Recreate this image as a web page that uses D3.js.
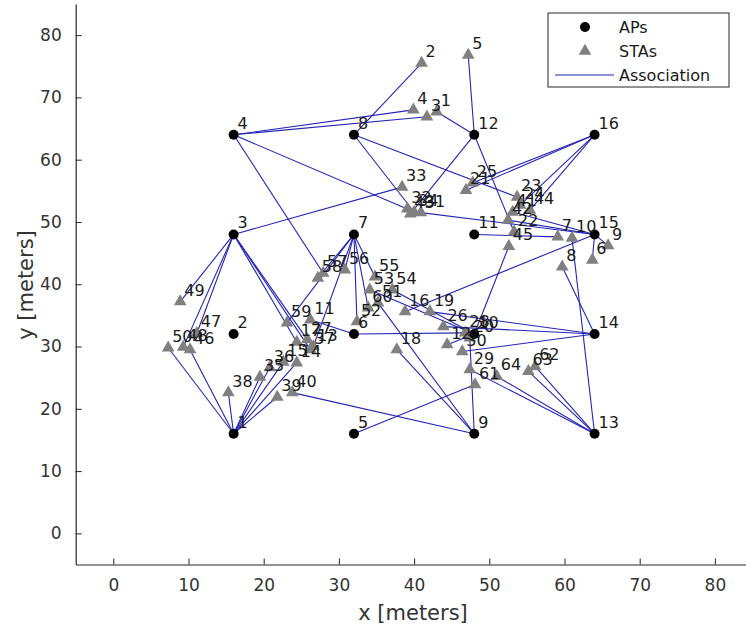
<!DOCTYPE html>
<html>
<head>
<meta charset="utf-8">
<script src="https://cdn.jsdelivr.net/npm/d3@7"></script>
<style>
  body { margin: 0; background: #fff; }
  text { font-family: "DejaVu Sans", sans-serif; }
</style>
</head>
<body>
<svg width="746" height="631"></svg>
<script>
// access points (16 on a 4x4 grid)
var apX = [16, 16, 16, 16, 32, 32, 32, 32, 48, 48, 48, 48, 64, 64, 64, 64];
var apY = [16, 32, 48, 64, 16, 32, 48, 64, 16, 32, 48, 64, 16, 32, 48, 64];

// stations: label, position, associated AP (1-based)
var staLabel = ["1","2","3","4","5","6","7","8","9","10","11","12","13","14","15","16",
  "17","18","19","20","21","22","23","24","25","26","27","28","29","30","31","32",
  "33","34","35","36","37","38","39","40","41","42","43","44","45","46","47","48",
  "49","50","51","52","53","54","55","56","57","58","59","60","61","62","63","64"];
var staX = [43.0, 41.0, 41.7, 39.9, 47.2, 63.7, 59.1, 59.7, 65.8, 61.0, 26.2, 44.4, 26.6, 24.4, 22.6, 38.8,
  24.4, 37.7, 42.1, 47.4, 46.9, 53.3, 53.7, 54.1, 47.8, 43.9, 25.8, 46.8, 47.4, 46.4, 40.9, 39.1,
  38.4, 40.0, 19.5, 20.8, 26.2, 15.3, 21.8, 23.8, 53.1, 52.5, 39.5, 55.4, 52.6, 10.2, 11.1, 9.3,
  8.9, 7.3, 35.2, 32.4, 34.1, 37.1, 34.8, 30.8, 27.9, 27.2, 23.1, 33.9, 48.1, 56.1, 55.2, 51.0];
var staY = [67.7, 75.5, 66.9, 68.0, 76.8, 43.9, 47.6, 42.8, 46.2, 47.4, 34.3, 30.3, 30.0, 27.4, 27.5, 35.6,
  30.7, 29.5, 35.6, 31.4, 55.1, 48.4, 54.0, 52.7, 56.3, 33.2, 31.1, 32.2, 26.3, 29.2, 51.5, 52.1,
  55.6, 51.6, 25.1, 26.6, 29.5, 22.6, 21.9, 22.6, 51.6, 50.3, 51.3, 51.9, 46.1, 29.5, 32.1, 29.9,
  37.2, 29.8, 37.0, 34.0, 39.1, 39.1, 41.2, 42.3, 41.8, 41.0, 33.8, 36.2, 23.9, 26.8, 26.0, 25.2];
var staAP = [12, 8, 4, 4, 12, 15, 11, 14, 15, 13, 6, 10, 7, 1, 1, 15,
  3, 9, 14, 9, 16, 12, 8, 16, 16, 14, 3, 6, 13, 14, 15, 4,
  3, 8, 1, 1, 3, 1, 1, 9, 15, 15, 12, 16, 10, 1, 3, 3,
  3, 1, 9, 7, 10, 10, 7, 7, 4, 7, 7, 7, 5, 13, 13, 13];

var xTicks = [0, 10, 20, 30, 40, 50, 60, 70, 80];
var yTicks = [0, 10, 20, 30, 40, 50, 60, 70, 80];

var svg = d3.select("svg");
var lineColor = "#2424b8";

var x = d3.scaleLinear().domain([-5, 85]).range([75.7, 752.5]);
var y = d3.scaleLinear().domain([-5, 85]).range([564.5, 4]);

var aps = apX.map(function(d, i) {
  return { id: i + 1, x: d, y: apY[i] };
});
var stas = staLabel.map(function(d, i) {
  return { label: d, x: staX[i], y: staY[i], ap: staAP[i] };
});

// association lines
svg.append("g")
  .selectAll("line")
  .data(stas)
  .enter().append("line")
  .attr("x1", function(d) { return x(d.x); })
  .attr("y1", function(d) { return y(d.y); })
  .attr("x2", function(d) { return x(aps[d.ap - 1].x); })
  .attr("y2", function(d) { return y(aps[d.ap - 1].y); })
  .attr("stroke", lineColor)
  .attr("stroke-width", 1.1);

// stations
var tri = d3.symbol().type(d3.symbolTriangle).size(70);
svg.append("g")
  .selectAll("path")
  .data(stas)
  .enter().append("path")
  .attr("d", tri)
  .attr("transform", function(d) { return "translate(" + x(d.x) + "," + y(d.y) + ")"; })
  .attr("fill", "#808080");

// access points
svg.append("g")
  .selectAll("circle")
  .data(aps)
  .enter().append("circle")
  .attr("cx", function(d) { return x(d.x); })
  .attr("cy", function(d) { return y(d.y); })
  .attr("r", 5)
  .attr("fill", "#000");

// labels
svg.append("g")
  .selectAll("text")
  .data(stas)
  .enter().append("text")
  .attr("x", function(d) { return x(d.x) + 4; })
  .attr("y", function(d) { return y(d.y) - 6; })
  .attr("font-size", 16)
  .attr("fill", "#1a1a1a")
  .text(function(d) { return d.label; });

svg.append("g")
  .selectAll("text")
  .data(aps)
  .enter().append("text")
  .attr("x", function(d) { return x(d.x) + 4; })
  .attr("y", function(d) { return y(d.y) - 6; })
  .attr("font-size", 16)
  .attr("fill", "#1a1a1a")
  .text(function(d) { return d.id; });

// axes (ticks inside, like matlab)
var xAxis = svg.append("g")
  .attr("transform", "translate(0," + y(-5) + ")")
  .call(d3.axisBottom(x).tickValues(xTicks).tickSizeInner(-6).tickSizeOuter(0).tickPadding(14));
var yAxis = svg.append("g")
  .attr("transform", "translate(" + x(-5) + ",0)")
  .call(d3.axisLeft(y).tickValues(yTicks).tickSizeInner(-6).tickSizeOuter(0).tickPadding(14));

[xAxis, yAxis].forEach(function(a) {
  a.select(".domain").attr("stroke", "#262626").attr("stroke-width", 1.2);
  a.selectAll(".tick line").attr("stroke", "#262626");
  a.selectAll(".tick text")
    .attr("font-size", 17)
    .attr("font-family", "DejaVu Sans")
    .attr("fill", "#333");
});

svg.append("text")
  .attr("x", 413)
  .attr("y", 620)
  .attr("text-anchor", "middle")
  .attr("font-size", 21)
  .attr("fill", "#333")
  .text("x [meters]");

svg.append("text")
  .attr("transform", "translate(33,285) rotate(-90)")
  .attr("text-anchor", "middle")
  .attr("font-size", 21)
  .attr("fill", "#333")
  .text("y [meters]");

// legend
var lg = svg.append("g").attr("transform", "translate(548,13)");
lg.append("rect")
  .attr("width", 181).attr("height", 74)
  .attr("fill", "#fff").attr("stroke", "#262626").attr("stroke-width", 1);
lg.append("circle").attr("cx", 37).attr("cy", 14).attr("r", 5).attr("fill", "#000");
lg.append("path").attr("d", tri)
  .attr("transform", "translate(37,38)").attr("fill", "#808080");
lg.append("line").attr("x1", 7).attr("x2", 66).attr("y1", 62).attr("y2", 62)
  .attr("stroke", lineColor).attr("stroke-width", 1.1);
var lgText = ["APs", "STAs", "Association"];
lg.selectAll("text.lab")
  .data(lgText)
  .enter().append("text")
  .attr("class", "lab")
  .attr("x", 71)
  .attr("y", function(d, i) { return 20 + i * 24; })
  .attr("font-size", 16)
  .attr("fill", "#1a1a1a")
  .text(function(d) { return d; });
</script>
</body>
</html>
